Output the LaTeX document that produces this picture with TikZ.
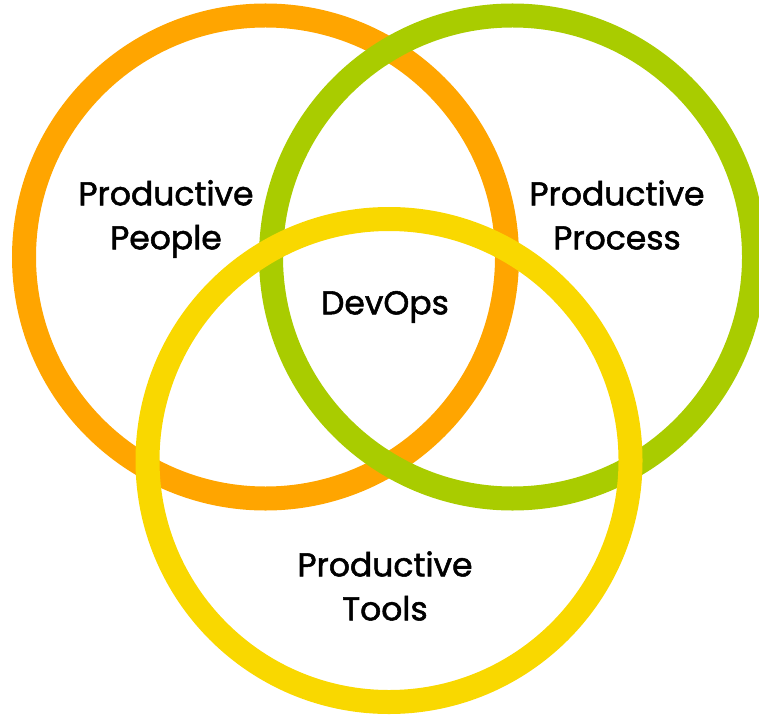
\documentclass[tikz,border=0pt]{standalone}
\usepackage{fontspec}
\setmainfont{Poppins}
\newfontfamily\labelfont{Poppins}[FakeBold=1.6]
\definecolor{ringorange}{HTML}{FFA500}
\definecolor{ringgreen}{HTML}{A9CC00}
\definecolor{ringyellow}{HTML}{F9D800}
\begin{document}
\begin{tikzpicture}[x=1pt,y=1pt,
  ring/.style={line width=24pt},
  label/.style={align=center,font=\labelfont\fontsize{33}{44}\selectfont,text=black,inner sep=0pt}]
\useasboundingbox (0,0) rectangle (759,716);
\clip (0,0) rectangle (759,716);
\draw[ring,ringorange] (265.5,459) circle (241.5);
\draw[ring,ringgreen] (512.5,459) circle (241.5);
\draw[ring,ringyellow] (389,255.5) circle (241.5);
\node[label] (people) at (166,497) {Productive\\People};
\node[label] (process) at (617,501) {Productive\\Process};
\node[label] (devops) at (385,409) {DevOps};
\node[label] (tools) at (385,130) {Productive\\Tools};
\end{tikzpicture}
\end{document}
